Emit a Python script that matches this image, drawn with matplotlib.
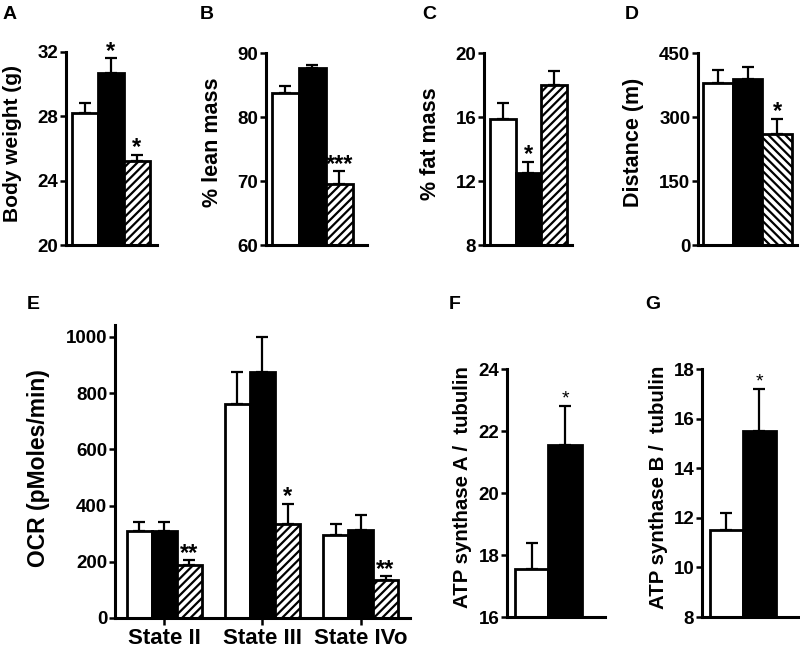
import matplotlib
matplotlib.use("Agg")
import matplotlib.pyplot as plt
import numpy as np

plt.rcParams['font.family'] = ['Liberation Sans', 'DejaVu Sans']
plt.rcParams['font.weight'] = 'bold'
plt.rcParams['hatch.linewidth'] = 1.6

# ---------------- data ----------------
bw_vals = [28.2, 30.7, 25.2]
bw_err = [0.6, 0.9, 0.4]
bw_stars = ["", "*", "*"]

lean_vals = [83.8, 87.6, 69.5]
lean_err = [1.0, 0.6, 2.0]
lean_stars = ["", "", "***"]

fat_vals = [15.9, 12.5, 18.0]
fat_err = [1.0, 0.7, 0.9]
fat_stars = ["", "*", ""]

dist_vals = [380, 388, 260]
dist_err = [30, 30, 35]
dist_stars = ["", "", "*"]

ocr_states = ["State II", "State III", "State IVo"]
ocr_white = [310, 760, 295]
ocr_white_err = [32, 115, 40]
ocr_black = [310, 875, 312]
ocr_black_err = [32, 125, 56]
ocr_hatch = [190, 335, 135]
ocr_hatch_err = [15, 70, 13]
ocr_hatch_stars = ["**", "*", "**"]

atpA_vals = [17.55, 21.55]
atpA_err = [0.85, 1.25]
atpA_stars = ["", "*"]

atpB_vals = [11.5, 15.5]
atpB_err = [0.7, 1.7]
atpB_stars = ["", "*"]

W, H = 800, 648
fig = plt.figure(figsize=(W / 100, H / 100), dpi=100)


def add_ax(left, right, top, bottom):
    return fig.add_axes([left / W, 1 - bottom / H, (right - left) / W, (bottom - top) / H])


LW = 2.0
TICKFS = 13.5


def style(ax, ylim, yticks, xlim):
    ax.set_ylim(*ylim)
    ax.set_xlim(*xlim)
    ax.set_yticks(yticks)
    ax.set_yticklabels([str(t) for t in yticks], fontsize=TICKFS, fontweight='bold')
    for s in ['top', 'right']:
        ax.spines[s].set_visible(False)
    for s in ['left', 'bottom']:
        ax.spines[s].set_linewidth(2.2)
    ax.tick_params(axis='y', direction='out', length=4.5, width=1.8, pad=1)
    ax.tick_params(axis='x', length=0)
    ax.set_xticks([])


def bars(ax, xs, vals, errs, kinds, width=1.0, stars=None, starfs=17, starweight='bold', staroff=0.0):
    for x, v, e, k in zip(xs, vals, errs, kinds):
        if k == 'w':
            ax.bar(x, v, width=width, color='white', edgecolor='black', linewidth=LW, zorder=2)
        elif k == 'b':
            ax.bar(x, v, width=width, color='black', edgecolor='black', linewidth=LW, zorder=2)
        else:
            ax.bar(x, v, width=width, color='white', edgecolor='black', linewidth=LW, hatch=k, zorder=2)
        ax.errorbar(x, v, yerr=[[0], [e]], fmt='none', ecolor='black', elinewidth=1.6,
                    capsize=4.5, capthick=1.6, zorder=1)
    if stars:
        for x, v, e, s in zip(xs, vals, errs, stars):
            if s:
                ax.annotate(s, (x, v + e), xytext=(0, -3 + staroff), textcoords='offset points',
                            ha='center', va='bottom', fontsize=starfs, fontweight=starweight)


def ylab(ax, text, x, y, fs):
    ax.set_ylabel(text, fontsize=fs, fontweight='bold')
    ax.yaxis.set_label_coords(x / W, 1 - y / H, transform=fig.transFigure)
    ax.yaxis.label.set_va('center')
    ax.yaxis.label.set_ha('center')


def letter(text, x, y):
    fig.text(x / W, 1 - y / H, text, fontsize=14, fontweight='bold', ha='left', va='top')


# A
axA = add_ax(66, 157, 52, 245)
style(axA, (20, 32), [20, 24, 28, 32], (-0.73, 2.77))
bars(axA, [0, 1, 2], bw_vals, bw_err, ['w', 'b', '////'], stars=bw_stars)
ylab(axA, "Body weight (g)", 13, 144, 15)
letter("A", 3, 6)

# B
axB = add_ax(266, 367, 53, 245)
style(axB, (60, 90), [60, 70, 80, 90], (-0.72, 3.02))
bars(axB, [0, 1, 2], lean_vals, lean_err, ['w', 'b', '////'], stars=lean_stars)
ylab(axB, "% lean mass", 212, 142, 15.5)
letter("B", 200, 6)

# C
axC = add_ax(484, 572, 53, 245)
style(axC, (8, 20), [8, 12, 16, 20], (-0.73, 2.7))
bars(axC, [0, 1, 2], fat_vals, fat_err, ['w', 'b', '////'], stars=fat_stars)
ylab(axC, "% fat mass", 430, 144, 15.5)
letter("C", 422, 6)

# D
axD = add_ax(698, 797, 53, 245)
style(axD, (0, 450), [0, 150, 300, 450], (-0.67, 2.67))
bars(axD, [0, 1, 2], dist_vals, dist_err, ['w', 'b', '\\\\\\\\'], stars=dist_stars)
ylab(axD, "Distance (m)", 633, 142, 15.5)
letter("D", 625, 6)

# E
axE = add_ax(115, 410, 325, 618)
style(axE, (0, 1042), [0, 200, 400, 600, 800, 1000], (-0.505, 2.505))
bw = 25 / 98
g = np.arange(len(ocr_states))
bars(axE, g - bw, ocr_white, ocr_white_err, ['w'] * 3, width=bw)
bars(axE, g, ocr_black, ocr_black_err, ['b'] * 3, width=bw)
bars(axE, g + bw, ocr_hatch, ocr_hatch_err, ['////'] * 3, width=bw, stars=ocr_hatch_stars)
axE.set_xticks(g)
axE.set_xticklabels(ocr_states, fontsize=16, fontweight='bold')
axE.tick_params(axis='x', direction='out', length=5, width=1.8, pad=2)
ylab(axE, "OCR (pMoles/min)", 39, 468, 16.5)
letter("E", 27, 296)

# F
axF = add_ax(507, 605, 369, 617)
style(axF, (16, 24), [16, 18, 20, 22, 24], (-0.74, 2.19))
bars(axF, [0, 1], atpA_vals, atpA_err, ['w', 'b'], stars=atpA_stars, starfs=14, starweight='normal', staroff=2)
ylab(axF, "ATP synthase A /  tubulin", 462, 487, 14.7)
letter("F", 449, 296)

# G
axG = add_ax(702, 800, 369, 617)
style(axG, (8, 18), [8, 10, 12, 14, 16, 18], (-0.74, 2.23))
bars(axG, [0, 1], atpB_vals, atpB_err, ['w', 'b'], stars=atpB_stars, starfs=14, starweight='normal', staroff=2)
ylab(axG, "ATP synthase B /  tubulin", 658, 487, 14.7)
letter("G", 645, 296)

fig.savefig("out.png", dpi=100)
